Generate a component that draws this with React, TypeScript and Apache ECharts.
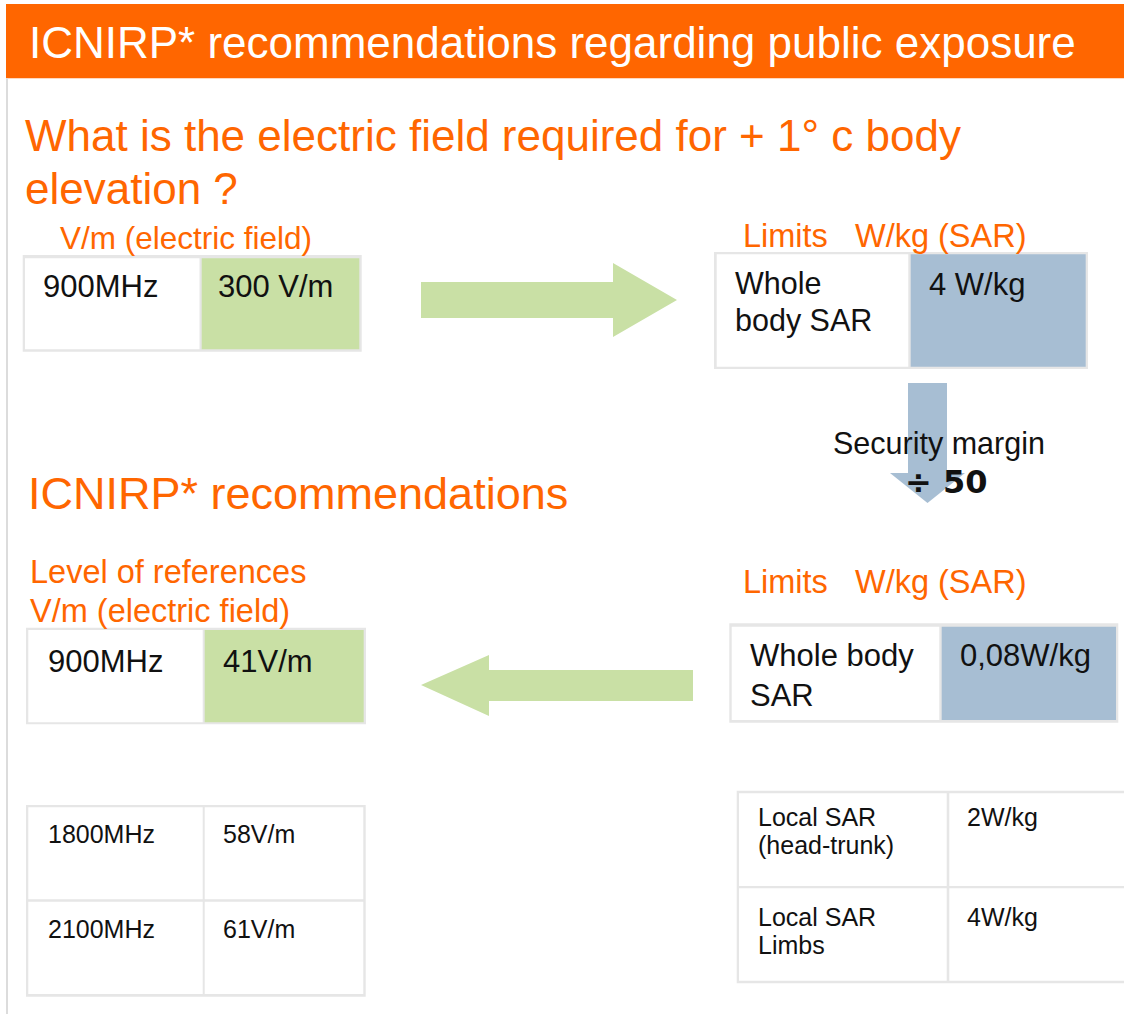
import React, { useEffect, useRef } from "react";
import * as echarts from "echarts";

// ---- content (texts / values) ----
const headerTitle = "ICNIRP* recommendations regarding public exposure";
const questionLines = ["What is the electric field required for + 1° c body", "elevation ?"];
const fieldUnitLabel = "V/m (electric field)";
const limitsLabel = "Limits   W/kg (SAR)";
const exposureRow = ["900MHz", "300 V/m"];
const sarWholeBody = [["Whole", "body SAR"], ["4 W/kg"]];
const marginLabel = "Security margin";
const marginFactor = "÷ 50";
const recTitle = "ICNIRP* recommendations";
const refLabels = ["Level of references", "V/m (electric field)"];
const refRow = ["900MHz", "41V/m"];
const sarReduced = [["Whole body", "SAR"], ["0,08W/kg"]];
const freqRows = [
  ["1800MHz", "58V/m"],
  ["2100MHz", "61V/m"],
];
const localSarRows = [
  [["Local SAR", "(head-trunk)"], ["2W/kg"]],
  [["Local SAR", "Limbs"], ["4W/kg"]],
];

// ---- styles ----
const FONT = '"Liberation Sans", Arial, Helvetica, sans-serif';
const ORANGE = "#FF6600";
const GREEN = "#C9E0A5";
const BLUE = "#A7BED3";
const BORDER = "#E6E6E6";
const INK = "#111111";

function txt(text: string, x: number, y: number, size: number, fill: string, extra: any = {}) {
  return {
    type: "text",
    x,
    y,
    z: 10,
    silent: true,
    style: {
      text,
      fill,
      fontSize: size,
      fontFamily: FONT,
      align: "left",
      verticalAlign: "middle",
      ...extra,
    },
  };
}

function rect(x1: number, y1: number, x2: number, y2: number, fill: string, z = 1) {
  return {
    type: "rect",
    z,
    silent: true,
    shape: { x: x1, y: y1, width: x2 - x1, height: y2 - y1 },
    style: { fill },
  };
}

function poly(points: number[][], fill: string) {
  return { type: "polygon", z: 2, silent: true, shape: { points }, style: { fill } };
}

function lines(arr: string[], x: number, y0: number, step: number, size: number) {
  return arr.map((t, i) => txt(t, x, y0 + i * step, size, INK));
}

function buildElements() {
  const els: any[] = [];
  // header bar + left rule
  els.push(rect(6, 4, 1124, 78.3, ORANGE));
  els.push(rect(6, 78.3, 8, 1014, "#DCDCDC"));
  els.push(txt(headerTitle, 29, 42, 44, "#FFFFFF"));

  // question
  els.push(txt(questionLines[0], 25, 135, 44, ORANGE));
  els.push(txt(questionLines[1], 25, 188, 44, ORANGE));

  // top-left table
  els.push(txt(fieldUnitLabel, 60, 238, 31.5, ORANGE));
  els.push(rect(22.7, 255, 361.7, 351.7, BORDER));
  els.push(rect(25, 258.3, 199.5, 349.3, "#FFFFFF"));
  els.push(rect(201.7, 258.3, 359.3, 349.3, GREEN));
  els.push(txt(exposureRow[0], 43, 286.5, 31, INK));
  els.push(txt(exposureRow[1], 218, 286.5, 31, INK));

  // right arrow
  els.push(
    poly(
      [
        [421, 282],
        [613, 282],
        [613, 263],
        [677, 300],
        [613, 337],
        [613, 318],
        [421, 318],
      ],
      GREEN
    )
  );

  // top-right table
  els.push(txt(limitsLabel, 743, 235.5, 32.5, ORANGE));
  els.push(rect(714, 252, 1088, 369, BORDER));
  els.push(rect(716.7, 254.3, 908.3, 366.7, "#FFFFFF"));
  els.push(rect(910.7, 254.3, 1085.7, 366.7, BLUE));
  els.push(...lines(sarWholeBody[0], 735, 283.3, 37, 30.5));
  els.push(txt(sarWholeBody[1][0], 929, 284, 31, INK));

  // down arrow + margin text
  els.push(
    poly(
      [
        [908, 383],
        [947, 383],
        [947, 473],
        [965, 473],
        [927.5, 503],
        [890, 473],
        [908, 473],
      ],
      BLUE
    )
  );
  els.push(txt(marginLabel, 833, 443.3, 30.5, INK));
  els.push(
    txt(marginFactor, 905, 481.5, 32, INK, {
      fontFamily: '"DejaVu Sans", sans-serif',
      fontWeight: "bold",
    })
  );

  // section title
  els.push(txt(recTitle, 28, 493, 45, ORANGE));

  // reference level table
  els.push(txt(refLabels[0], 30, 572, 32.5, ORANGE));
  els.push(txt(refLabels[1], 30, 611, 32.5, ORANGE));
  els.push(rect(26, 627.7, 366, 724.3, BORDER));
  els.push(rect(28.3, 630, 202.7, 722.3, "#FFFFFF"));
  els.push(rect(204.7, 630, 363.7, 722.3, GREEN));
  els.push(txt(refRow[0], 48, 661, 31, INK));
  els.push(txt(refRow[1], 223, 661, 31, INK));

  // left arrow
  els.push(
    poly(
      [
        [421, 685],
        [489, 655],
        [489, 670],
        [693, 670],
        [693, 701],
        [489, 701],
        [489, 716],
      ],
      GREEN
    )
  );

  // reduced SAR table
  els.push(txt(limitsLabel, 743, 581.7, 32.5, ORANGE));
  els.push(rect(729.3, 623.3, 1118.3, 722.7, BORDER));
  els.push(rect(731.7, 626.7, 939.3, 720, "#FFFFFF"));
  els.push(rect(941.7, 626.7, 1116, 720, BLUE));
  els.push(...lines(sarReduced[0], 750, 655.5, 39.5, 31));
  els.push(txt(sarReduced[1][0], 960, 655.5, 31, INK));

  // frequency table (bottom-left)
  els.push(rect(26, 805, 365.7, 996.7, BORDER));
  const fy = [
    [807.3, 899.3],
    [901.7, 994],
  ];
  const fyText = [834, 929];
  freqRows.forEach((row, i) => {
    els.push(rect(28.3, fy[i][0], 202.7, fy[i][1], "#FFFFFF"));
    els.push(rect(204.7, fy[i][0], 363.3, fy[i][1], "#FFFFFF"));
    els.push(txt(row[0], 48, fyText[i], 25, INK));
    els.push(txt(row[1], 223, fyText[i], 25, INK));
  });

  // local SAR table (bottom-right)
  els.push(rect(736.7, 790.7, 1130, 983.3, BORDER));
  const ly = [
    [793.3, 886],
    [888.3, 980.7],
  ];
  const lyText = [816.7, 916.7];
  localSarRows.forEach((row, i) => {
    els.push(rect(739, ly[i][0], 946.7, ly[i][1], "#FFFFFF"));
    els.push(rect(949.3, ly[i][0], 1130, ly[i][1], "#FFFFFF"));
    els.push(...lines(row[0], 758, lyText[i], 28.5, 25));
    els.push(txt(row[1][0], 967, lyText[i], 25, INK));
  });

  return els;
}

export default function App() {
  const ref = useRef<HTMLDivElement>(null);
  useEffect(() => {
    if (!ref.current) return;
    const chart = echarts.init(ref.current, undefined, { renderer: "svg" });
    chart.setOption({
      animation: false,
      backgroundColor: "#FFFFFF",
      graphic: { elements: buildElements() },
    });
    return () => chart.dispose();
  }, []);
  return (
    <div
      ref={ref}
      style={{ position: "absolute", left: 0, top: 0, width: 1124, height: 1014, background: "#fff" }}
    />
  );
}
